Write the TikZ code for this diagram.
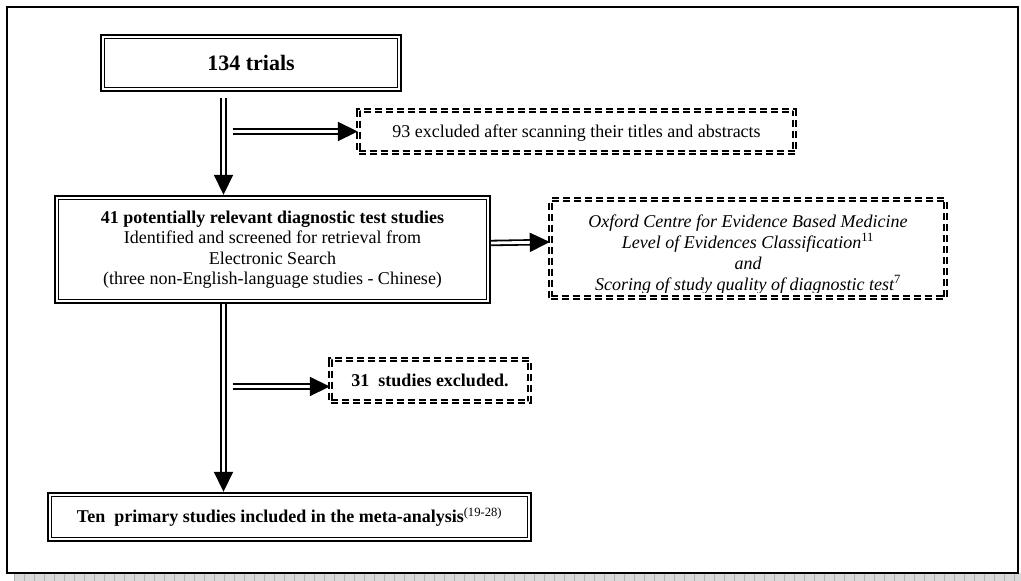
\documentclass[tikz,border=0pt]{standalone}
\usepackage{fontspec}
\setmainfont{Liberation Serif}
\usetikzlibrary{arrows.meta,calc}
\tikzset{
	solidbox/.style={draw, line width=2.4pt, align=center, inner sep=2pt,
		path picture={\draw[line width=1pt] ([shift={(3.4pt,3.4pt)}]path picture bounding box.south west) rectangle ([shift={(-3.4pt,-3.4pt)}]path picture bounding box.north east);}},
	dashbox/.style={draw, double, line width=1.4pt, double distance=1.8pt, dash pattern=on 7pt off 4pt, align=center, inner sep=2pt, text depth=0pt},
	dblarrow/.style={double, line width=1.8pt, double distance=2.8pt, -{Triangle[length=20pt, width=19pt]}}
}
\begin{document}
\begin{tikzpicture}[x=1pt, y=-1pt, line join=miter, font=\fontsize{18}{20.5}\selectfont]
			\def\xtruc{223.5}
			\useasboundingbox (0,0) rectangle (1021,581);
			% Bóng xám dưới khung
			\fill[gray!30] (14,573) rectangle (1021,581);
			\foreach \i in {14,24,...,1014} \draw[gray!60, line width=0.5pt] (\i,573) -- (\i,581);
			% Khung ngoài
			\draw[line width=1.3pt] (7,7) rectangle (1018,573);
			\coordinate (spine) at (\xtruc,0);
			% Các ô
			\node[solidbox, minimum width=300pt, minimum height=56pt, font=\fontsize{22}{24}\selectfont\bfseries] (trials) at (251,63) {134 trials};
			\node[dashbox, minimum width=436pt, minimum height=42pt] (excl1) at (576.5,131.5) {93 excluded after scanning their titles and abstracts};
			\node[solidbox, minimum width=435pt, minimum height=107pt] (cand) at (272.5,249.5) {\textbf{41 potentially relevant diagnostic test studies}\\Identified and screened for retrieval from\\Electronic Search\\(three non-English-language studies - Chinese)};
			\node[dashbox, minimum width=395pt, minimum height=98pt] (oxford) at (748,248.5) {};
			% Chữ trong ô bị cắt ở mép dưới
			\begin{scope}
				\clip (552,203) rectangle (944,292.5);
				\node[align=center, anchor=base, inner sep=0pt, font=\fontsize{18}{21}\selectfont\itshape] (oxfordtxt) at (748,290) {Oxford Centre for Evidence Based Medicine\\Level of Evidences Classification\textsuperscript{\upshape 11}\\and\\Scoring of study quality of diagnostic test\textsuperscript{\upshape 7}};
			\end{scope}
			\node[dashbox, minimum width=199pt, minimum height=42pt, font=\fontsize{18}{20.5}\selectfont\bfseries] (excl2) at (430,380.5) {31\ \ studies excluded.};
			\node[solidbox, minimum width=483pt, minimum height=48pt, font=\fontsize{18}{20.5}\selectfont\bfseries] (final) at (289.5,517) {Ten\ \ primary studies included in the meta-analysis\textsuperscript{\mdseries(19-28)}};
			% Mũi tên
			\draw[dblarrow, shorten <=6pt] (trials.south -| spine) -- (cand.north -| spine);
			\draw[dblarrow] ([xshift=9pt]excl1.west -| spine) -- (excl1.west);
			\draw[dblarrow] ([yshift=6.5pt]cand.east) -- ([yshift=6.5pt]oxford.west);
			\draw[dblarrow] ([xshift=9pt, yshift=-6pt]excl2.west -| spine) -- ([yshift=-6pt]excl2.west);
			\draw[dblarrow] (cand.south -| spine) -- (final.north -| spine);
	\end{tikzpicture}
\end{document}
